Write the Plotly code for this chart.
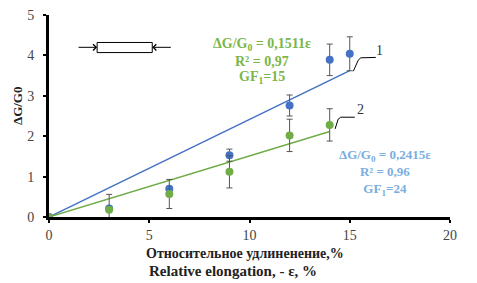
import plotly.graph_objects as go

# Data
strain = [0, 3, 6, 9, 12, 14, 15]
blue_vals = [0, 0.21, 0.70, 1.53, 2.76, 3.89, 4.04]
blue_err = [0, 0.05, 0.05, 0.15, 0.26, 0.39, 0.42]
strain_g = [0, 3, 6, 9, 12, 14]
green_vals = [0, 0.18, 0.57, 1.12, 2.02, 2.28]
green_err = [0, 0.38, 0.36, 0.40, 0.40, 0.40]
blue_slope = 0.2415
green_slope = 0.1511
blue_fit_x = [0, 15]
green_fit_x = [0, 14]
green_text = ["ΔG/G<sub>0</sub> = 0,1511ε", "R² = 0,97", "GF<sub>1</sub>=15"]
blue_text = ["ΔG/G<sub>0</sub> = 0,2415ε", "R² = 0,96", "GF<sub>1</sub>=24"]

BLUE = "#4472C4"
GREEN = "#70AD47"
SERIF = "Times New Roman, Liberation Serif, DejaVu Serif, serif"

fig = go.Figure()

fig.add_trace(go.Scatter(x=blue_fit_x, y=[blue_slope * v for v in blue_fit_x], mode="lines",
                         line=dict(color=BLUE, width=1.5), showlegend=False))
fig.add_trace(go.Scatter(x=green_fit_x, y=[green_slope * v for v in green_fit_x], mode="lines",
                         line=dict(color=GREEN, width=1.5), showlegend=False))
fig.add_trace(go.Scatter(x=strain, y=blue_vals, mode="markers",
                         marker=dict(color=BLUE, size=8),
                         error_y=dict(type="data", array=blue_err, color="#555555", thickness=1, width=3),
                         showlegend=False))
fig.add_trace(go.Scatter(x=strain_g, y=green_vals, mode="markers",
                         marker=dict(color=GREEN, size=8),
                         error_y=dict(type="data", array=green_err, color="#555555", thickness=1, width=3),
                         showlegend=False))

# schematic specimen
fig.add_shape(type="rect", x0=2.4, x1=5.15, y0=4.07, y1=4.32, line=dict(color="black", width=1))
fig.add_annotation(x=2.4, y=4.2, ax=1.4, ay=4.2, xref="x", yref="y", axref="x", ayref="y",
                   showarrow=True, arrowhead=4, arrowsize=1.2, arrowwidth=1, arrowcolor="black", text="")
fig.add_annotation(x=5.15, y=4.2, ax=6.15, ay=4.2, xref="x", yref="y", axref="x", ayref="y",
                   showarrow=True, arrowhead=4, arrowsize=1.2, arrowwidth=1, arrowcolor="black", text="")

# leader lines and labels
fig.add_shape(type="path", path="M 15.18,3.61 L 15.42,3.88 L 15.55,3.94 L 16.3,3.95",
              line=dict(color="black", width=1))
fig.add_shape(type="path", path="M 14.27,2.18 L 14.42,2.42 L 14.55,2.47 L 15.25,2.47",
              line=dict(color="black", width=1))
fig.add_annotation(x=16.5, y=4.12, text="1", showarrow=False,
                   font=dict(family=SERIF, size=14, color="#333"))
fig.add_annotation(x=15.55, y=2.65, text="2", showarrow=False,
                   font=dict(family=SERIF, size=14, color="#333"))

for txt, yy in zip(green_text, [4.26, 3.86, 3.45]):
    fig.add_annotation(x=10.6, y=yy, text=txt, showarrow=False,
                       font=dict(family=SERIF, size=14, color="#7AB648", weight="bold"))
fig.add_annotation(x=16.78, y=1.10, text="<br>".join(blue_text), showarrow=False, align="center",
                   borderpad=0, font=dict(family=SERIF, size=13, color="#7BAEE0", weight="bold"))

# axis titles
fig.add_annotation(xref="paper", yref="paper", x=0.49, y=-0.183, yanchor="middle",
                   text="Относительное удлиненение,%", showarrow=False,
                   font=dict(family=SERIF, size=14, color="#222", weight="bold"))
fig.add_annotation(xref="paper", yref="paper", x=0.46, y=-0.267, yanchor="middle",
                   text="Relative elongation, - ε, %", showarrow=False,
                   font=dict(family=SERIF, size=15, color="#222", weight="bold"))
fig.add_annotation(xref="paper", yref="paper", x=-0.077, y=0.55, textangle=-90,
                   xanchor="center", yanchor="middle",
                   text="ΔG/G0", showarrow=False,
                   font=dict(family=SERIF, size=13, color="#222", weight="bold"))

fig.update_xaxes(range=[0, 20], tickvals=[0, 5, 10, 15, 20], showgrid=False, zeroline=False,
                 showline=True, linecolor="black", linewidth=3, ticks="outside", ticklen=3,
                 tickwidth=2, tickcolor="black", automargin=False, ticklabeloverflow="allow",
                 tickfont=dict(family=SERIF, size=14, color="#444"))
fig.update_yaxes(range=[0, 5], tickvals=[0, 1, 2, 3, 4, 5], showgrid=False, zeroline=False,
                 showline=True, linecolor="black", linewidth=3, ticks="outside", ticklen=3,
                 tickwidth=2, tickcolor="black", ticklabelstandoff=6, automargin=False,
                 ticklabeloverflow="allow",
                 tickfont=dict(family=SERIF, size=14, color="#444"))

# the page body adds an 8 px offset, so margins are shifted to compensate
fig.update_layout(width=477, height=283, margin=dict(l=41, r=35, t=7, b=74),
                  plot_bgcolor="white", paper_bgcolor="white")

fig.write_html("out.html")
